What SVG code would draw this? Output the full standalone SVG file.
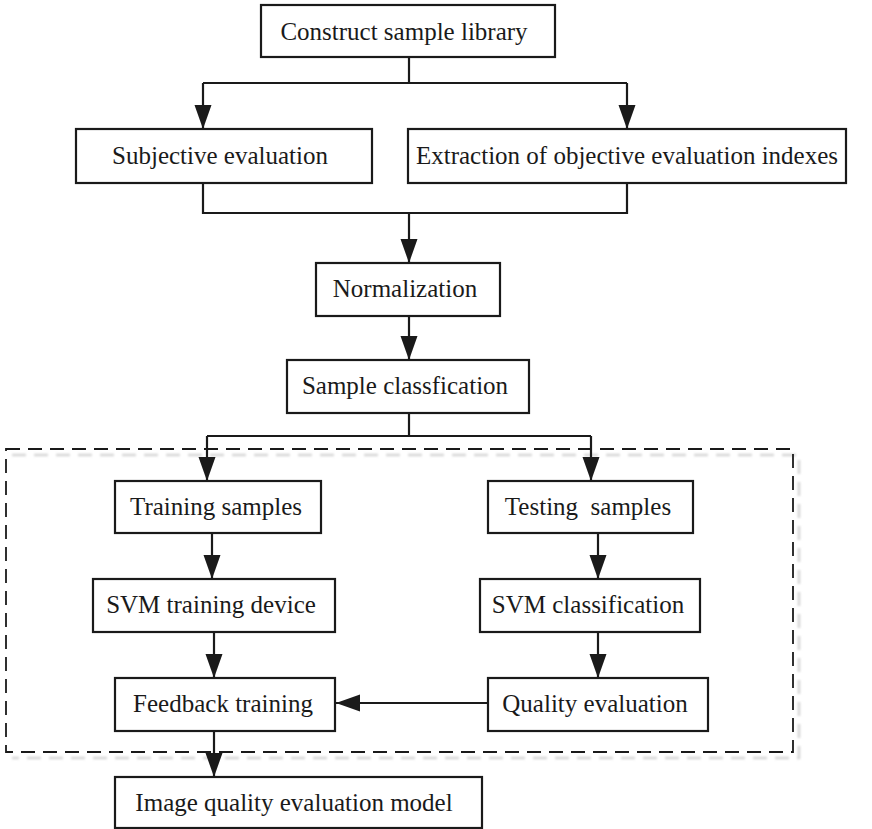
<svg xmlns="http://www.w3.org/2000/svg" width="872" height="829" viewBox="0 0 872 829">
  <style>
    .box { fill: #ffffff; stroke: #1a1a1a; stroke-width: 2.2; }
    .lbl { font-family: "Liberation Serif", "Times New Roman", serif; font-size: 25px; fill: #1a1a1a; text-anchor: middle; white-space: pre; }
    .wire { fill: none; stroke: #1a1a1a; stroke-width: 2.2; }
    .frame { fill: none; stroke: #1a1a1a; stroke-width: 1.8; stroke-dasharray: 14 8; }
    .frame-shadow { fill: none; stroke: #d6d6d6; stroke-width: 2.6; stroke-dasharray: 14 8; }
  </style>
  <defs>
    <marker id="arrow" markerUnits="userSpaceOnUse" markerWidth="26" markerHeight="18" refX="24" refY="8.5" orient="auto">
      <path d="M0,0 L24,8.5 L0,17 z" fill="#1a1a1a"/>
    </marker>
    <filter id="soft" x="-5%" y="-5%" width="110%" height="110%">
      <feGaussianBlur stdDeviation="1.3"/>
    </filter>
  </defs>
  <rect width="872" height="829" fill="#ffffff"/>

  <!-- dashed frame round the SVM stage, with a soft offset shadow -->
  <g id="svm-frame">
    <path class="frame-shadow" d="M12,455 H799 V758 H12" filter="url(#soft)"/>
    <rect class="frame" x="6" y="449" width="787" height="303"/>
  </g>

  <!-- connectors -->
  <g id="connectors">
    <path class="wire" d="M409,57 V83"/>
    <path class="wire" d="M203,83 H627"/>
    <path class="wire" d="M203,83 V129" marker-end="url(#arrow)"/>
    <path class="wire" d="M627,83 V129" marker-end="url(#arrow)"/>
    <path class="wire" d="M203,183 V213 H627 V183"/>
    <path class="wire" d="M409,213 V263" marker-end="url(#arrow)"/>
    <path class="wire" d="M409,316 V360" marker-end="url(#arrow)"/>
    <path class="wire" d="M409,413 V436"/>
    <path class="wire" d="M207,436 H591"/>
    <path class="wire" d="M207,436 V481" marker-end="url(#arrow)"/>
    <path class="wire" d="M591,436 V481" marker-end="url(#arrow)"/>
    <path class="wire" d="M212,533 V579" marker-end="url(#arrow)"/>
    <path class="wire" d="M598,533 V579" marker-end="url(#arrow)"/>
    <path class="wire" d="M214,632 V678" marker-end="url(#arrow)"/>
    <path class="wire" d="M598,632 V678" marker-end="url(#arrow)"/>
    <path class="wire" d="M488,703 H336" marker-end="url(#arrow)"/>
    <path class="wire" d="M214,731 V777" marker-end="url(#arrow)"/>
  </g>

  <g id="construct">
    <rect class="box" x="261" y="5" width="294" height="52"/>
    <text class="lbl" x="404" y="40">Construct sample library</text>
  </g>
  <g id="subjective">
    <rect class="box" x="76" y="129" width="296" height="54"/>
    <text class="lbl" x="220" y="164">Subjective evaluation</text>
  </g>
  <g id="extraction">
    <rect class="box" x="408" y="129" width="438" height="54"/>
    <text class="lbl" x="627" y="164">Extraction of objective evaluation indexes</text>
  </g>
  <g id="normalization">
    <rect class="box" x="316" y="263" width="184" height="53"/>
    <text class="lbl" x="405" y="297">Normalization</text>
  </g>
  <g id="sample-classification">
    <rect class="box" x="287" y="360" width="242" height="53"/>
    <text class="lbl" x="405" y="394">Sample classfication</text>
  </g>
  <g id="training-samples">
    <rect class="box" x="115" y="481" width="206" height="52"/>
    <text class="lbl" x="216" y="515">Training samples</text>
  </g>
  <g id="testing-samples">
    <rect class="box" x="488" y="481" width="205" height="52"/>
    <text class="lbl" x="588" y="515">Testing  samples</text>
  </g>
  <g id="svm-training">
    <rect class="box" x="93" y="579" width="242" height="53"/>
    <text class="lbl" x="211" y="613">SVM training device</text>
  </g>
  <g id="svm-classification">
    <rect class="box" x="480" y="579" width="220" height="53"/>
    <text class="lbl" x="588" y="613">SVM classification</text>
  </g>
  <g id="feedback-training">
    <rect class="box" x="115" y="678" width="220" height="53"/>
    <text class="lbl" x="223" y="712">Feedback training</text>
  </g>
  <g id="quality-evaluation">
    <rect class="box" x="488" y="678" width="220" height="53"/>
    <text class="lbl" x="595" y="712">Quality evaluation</text>
  </g>
  <g id="model">
    <rect class="box" x="115" y="777" width="367" height="51"/>
    <text class="lbl" x="294" y="811">Image quality evaluation model</text>
  </g>
</svg>
